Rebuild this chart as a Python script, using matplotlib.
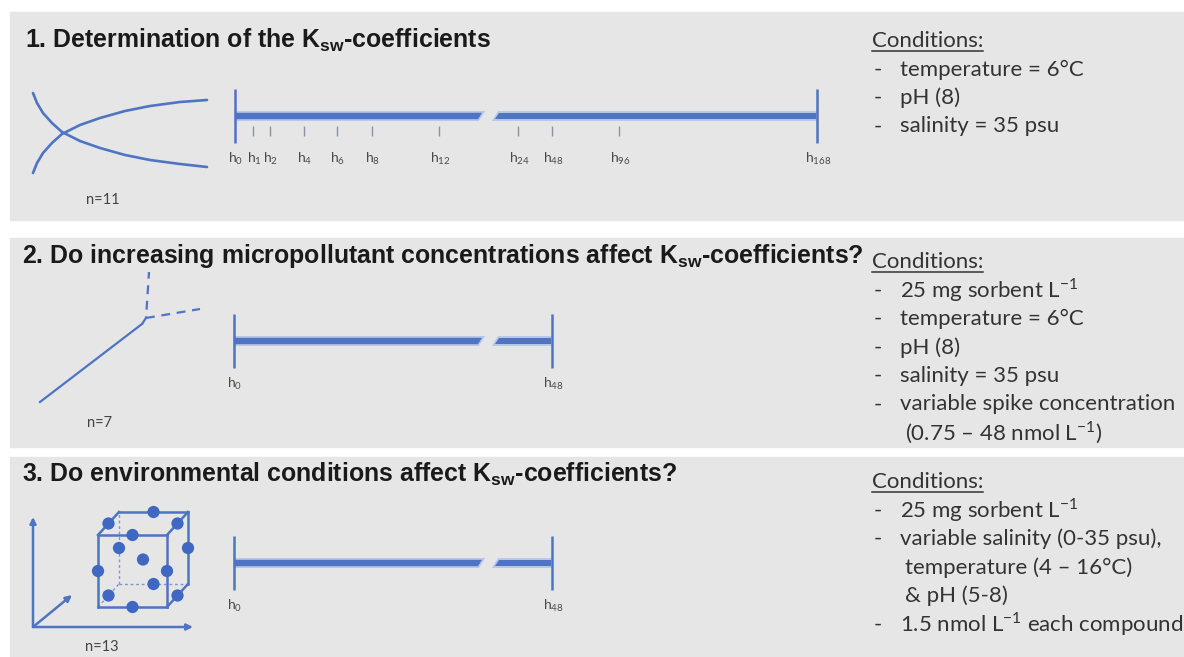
import numpy as np
import matplotlib.pyplot as plt
from matplotlib.patches import Rectangle, Polygon

plt.rcParams['mathtext.fontset'] = 'custom'
plt.rcParams['mathtext.rm'] = 'Lato'

W, H = 1184, 657

# ---- content of the schematic ----
titles = ["1. Determination of the K$_\\mathregular{sw}$-coefficients",
          "2. Do increasing micropollutant concentrations affect K$_\\mathregular{sw}$-coefficients?",
          "3. Do environmental conditions affect K$_\\mathregular{sw}$-coefficients?"]
n_reps = [11, 7, 13]
hours_1 = [0, 1, 2, 4, 6, 8, 12, 24, 48, 96, 168]
hours_2 = [0, 48]
hours_3 = [0, 48]
# (bullet?, text)
cond_1 = [(True, "temperature = 6°C"), (True, "pH (8)"), (True, "salinity = 35 psu")]
cond_2 = [(True, "25 mg sorbent L$^\\mathregular{-1}$"), (True, "temperature = 6°C"),
          (True, "pH (8)"), (True, "salinity = 35 psu"),
          (True, "variable spike concentration"),
          (False, "(0.75 – 48 nmol L$^\\mathregular{-1}$)")]
cond_3 = [(True, "25 mg sorbent L$^\\mathregular{-1}$"),
          (True, "variable salinity (0-35 psu),"),
          (False, "temperature (4 – 16°C)"), (False, "& pH (5-8)"),
          (True, "1.5 nmol L$^\\mathregular{-1}$ each compound")]

# icon 1: sorption / desorption curves (px)
curve_x = [33, 37, 43, 52, 62, 80, 100, 125, 150, 180, 207]
curve_down = [93, 103, 113, 123, 132, 141, 148, 155, 160, 164, 167]
curve_up = [173, 163, 153, 143, 134, 125, 118, 111, 106, 102, 100]

# icon 3: Box-Behnken design, coded levels (a, b, c)
bbd = [(0, 1, -1), (0, -1, -1), (-1, 0, -1), (1, 0, -1),
       (0, 1, 1), (0, -1, 1), (-1, 0, 1), (1, 0, 1),
       (-1, 1, 0), (1, 1, 0), (-1, -1, 0), (1, -1, 0),
       (0, 0, 0)]

BLUE = '#4f74c4'
LIGHT = '#b7c7e6'
GRAY_BG = '#e7e6e6'
TXT = '#333333'
FS_COND = 16

fig = plt.figure(figsize=(W / 100, H / 100), dpi=100)
ax = fig.add_axes([0, 0, 1, 1])
ax.set_xlim(0, W)
ax.set_ylim(H, 0)
ax.axis('off')

# panel backgrounds
panels = [(12, 208), (238, 209), (457, 200)]
for top, h in panels:
    ax.add_patch(Rectangle((10, top), W - 10, h, color=GRAY_BG, zorder=0))

title_pos = [(25, 40), (22, 256), (22, 474)]
for (x, y), t in zip(title_pos, titles):
    ax.text(x, y, t, family='Liberation Sans', weight='bold', fontsize=17.9,
            color='#1a1a1a', va='center', ha='left')


def timeline(yc, xs, hours, x_break=(480, 497)):
    x0, x1 = xs[0], xs[-1]
    ax.vlines([x0, x1], yc - 27, yc + 27, color=BLUE, lw=1.8, zorder=3)
    hw = 3.2
    seg1 = [(x0 + 1, yc - hw), (x_break[0] + 2, yc - hw), (x_break[0] - 2, yc + hw), (x0 + 1, yc + hw)]
    seg2 = [(x_break[1] + 2, yc - hw), (x1 - 1, yc - hw), (x1 - 1, yc + hw), (x_break[1] - 2, yc + hw)]
    for seg in (seg1, seg2):
        glow = Polygon(seg, closed=True, facecolor='none', edgecolor=LIGHT, lw=2.5, zorder=2)
        ax.add_patch(glow)
        ax.add_patch(Polygon(seg, closed=True, facecolor=BLUE, edgecolor='none', zorder=3))
    if len(xs) > 2:
        ax.vlines(xs[1:-1], yc + 10, yc + 20, color='#8a93a6', lw=1.0, zorder=3)
    for x, hr in zip(xs, hours):
        ax.text(x + 1, yc + 43, "h$_\\mathregular{%d}$" % hr, family='Lato', fontsize=10,
                color='#4a4a4a', ha='center', va='center')


timeline(116, [235, 253, 270, 304, 337, 372, 439, 518, 552, 619, 817], hours_1)
timeline(341, [234, 552], hours_2)
timeline(563, [234, 552], hours_3)

# n labels
for (x, y), n in zip([(103, 200), (100, 423), (102, 647)], n_reps):
    ax.text(x, y, "n=%d" % n, family='Lato', fontsize=10.5, color='#444444',
            ha='center', va='center')

# icon 1
ax.plot(curve_x, curve_down, color=BLUE, lw=1.9, solid_capstyle='round')
ax.plot(curve_x, curve_up, color=BLUE, lw=1.9, solid_capstyle='round')

# icon 2: linear range then breaking off
ax.plot([40, 142], [402, 324], color=BLUE, lw=1.6)
ax.plot([142, 146, 149], [324, 318, 272], color=BLUE, lw=1.6, ls=(0, (4, 3)))
ax.plot([146, 200], [318, 309], color=BLUE, lw=1.6, ls=(0, (4, 3)))

# icon 3: axes
for dx, dy in [(0, -110), (160, 0), (39, -32)]:
    ax.annotate('', xy=(33 + dx, 627 + dy), xytext=(33, 627),
                arrowprops=dict(arrowstyle='-|>', color=BLUE, lw=1.8,
                                mutation_scale=9, shrinkA=0, shrinkB=0))

# cube projection
fx0, fx1, fy0, fy1 = 98, 167, 535, 607
ox, oy = 21, -23


def proj(a, b, c):
    return (fx0 + (a + 1) / 2 * (fx1 - fx0) + (c + 1) / 2 * ox,
            fy1 - (b + 1) / 2 * (fy1 - fy0) + (c + 1) / 2 * oy)


corners = {(a, b, c): proj(a, b, c) for a in (-1, 1) for b in (-1, 1) for c in (-1, 1)}
hidden = (-1, -1, 1)
for k1 in corners:
    for k2 in corners:
        if k1 < k2 and sum(u != v for u, v in zip(k1, k2)) == 1:
            p, q = corners[k1], corners[k2]
            if hidden in (k1, k2):
                ax.plot([p[0], q[0]], [p[1], q[1]], color='#7f95c8', lw=1.0, ls=(0, (2, 2)))
            else:
                ax.plot([p[0], q[0]], [p[1], q[1]], color=BLUE, lw=1.8)
pts = np.array([proj(*p) for p in bbd])
ax.scatter(pts[:, 0], pts[:, 1], s=78, color='#3f68c2', zorder=5, edgecolors='none')

# conditions
cond_y = [41, 262, 482]
for y0, cond in zip(cond_y, [cond_1, cond_2, cond_3]):
    hdr = ax.text(872, y0, "Conditions:", family='Lato', fontsize=FS_COND, color=TXT,
                  va='center', ha='left')
    fig.canvas.draw()
    bb = hdr.get_window_extent().transformed(ax.transData.inverted())
    ax.plot([bb.x0, bb.x1], [y0 + 10, y0 + 10], color=TXT, lw=1.1)
    for i, (bullet, txt) in enumerate(cond):
        y = y0 + 28.5 * (i + 1)
        if bullet:
            ax.text(874, y, "-", family='Lato', fontsize=FS_COND, color=TXT, va='center')
            ax.text(900, y, txt, family='Lato', fontsize=FS_COND, color=TXT, va='center')
        else:
            ax.text(905, y, txt, family='Lato', fontsize=FS_COND, color=TXT, va='center')

fig.savefig('out.png', dpi=100)
